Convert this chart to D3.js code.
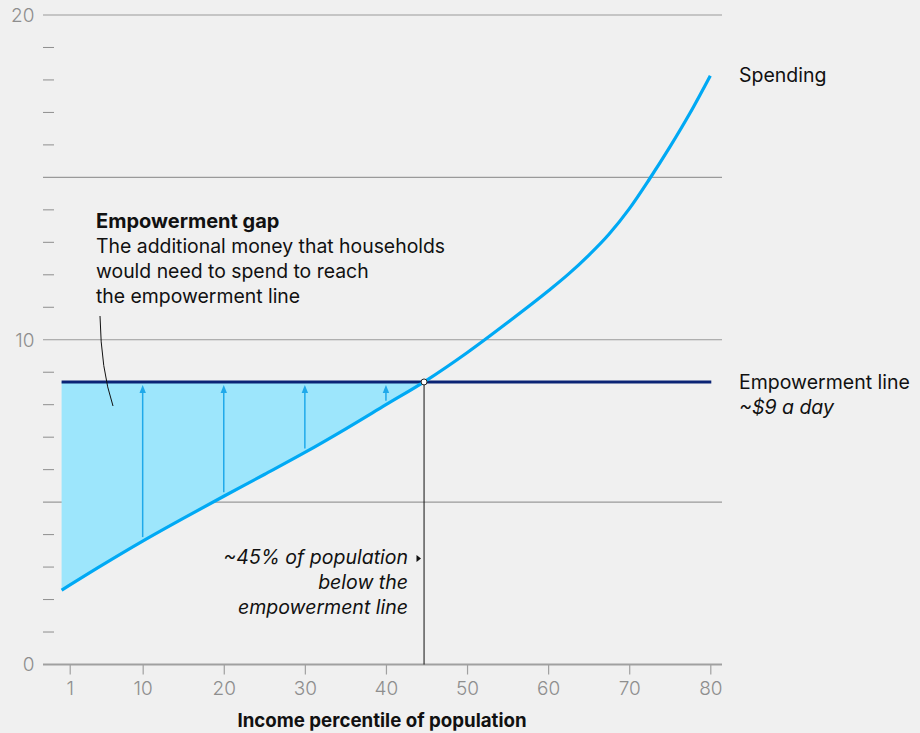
<!DOCTYPE html>
<html>
<head>
<meta charset="utf-8">
<script src="https://cdn.jsdelivr.net/npm/d3@7"></script>
<style>
  html, body { margin: 0; padding: 0; background: #f0f0f0; }
  svg { display: block; font-family: "Inter", "Roboto", sans-serif; }
</style>
</head>
<body>
<svg id="chart" width="920" height="733"></svg>
<script>
// Household spending per day by income percentile
const percentiles = [0, 5, 10, 15, 20, 25, 30, 35, 40, 45, 50, 55, 60, 62.5, 65, 67.5, 70, 72.5, 75, 77.5, 80];
const spending    = [2.29, 3.06, 3.8, 4.5, 5.18, 5.85, 6.53, 7.25, 8.0, 8.75, 9.6, 10.53, 11.5, 12.02, 12.6, 13.25, 14.03, 14.95, 15.93, 16.98, 18.13];

// Empowerment line (~$9 a day) and the share of population below it
const empowermentLine = 8.7;
const crossingPercentile = 44.7;

// Percentiles where the gap is marked with arrows
const arrowPercentiles = [10, 20, 30, 40];

// Axis ticks
const xTicks = [1, 10, 20, 30, 40, 50, 60, 70, 80];
const yLabelTicks = [0, 10, 20];
const yGridTicks = [5, 10, 15, 20];
const yMinorTicks = d3.range(1, 20).filter(v => v % 5 !== 0);

const svg = d3.select("#chart");

const x = d3.scaleLinear().domain([1, 80]).range([69.7, 710.3]);
const y = d3.scaleLinear().domain([0, 20]).range([664.5, 15]);

const gridLeft = 43, gridRight = 722;
const grey = "#8e8e8e";

// Horizontal gridlines
svg.append("g").selectAll("line").data(yGridTicks).join("line")
  .attr("x1", gridLeft).attr("x2", gridRight)
  .attr("y1", d => y(d)).attr("y2", d => y(d))
  .attr("stroke", "#9a9a9a").attr("stroke-width", 1.2);

// Minor y ticks
svg.append("g").selectAll("line").data(yMinorTicks).join("line")
  .attr("x1", gridLeft).attr("x2", 54)
  .attr("y1", d => y(d)).attr("y2", d => y(d))
  .attr("stroke", grey).attr("stroke-width", 1);

// Y labels
svg.append("g").selectAll("text").data(yLabelTicks).join("text")
  .attr("x", 34.5).attr("y", d => y(d))
  .attr("dy", "0.36em")
  .attr("text-anchor", "end")
  .attr("fill", grey)
  .attr("font-size", 19)
  .attr("font-weight", 300)
  .text(d => d);

// X axis
const xAxis = d3.axisBottom(x).tickValues(xTicks).tickSize(10).tickPadding(7).tickSizeOuter(0);
const gx = svg.append("g").attr("transform", `translate(0,${y(0)})`).call(xAxis);
gx.select(".domain").remove();
gx.append("line").attr("x1", gridLeft).attr("x2", gridRight)
  .attr("y1", 0).attr("y2", 0).attr("stroke", "#a0a0a0").attr("stroke-width", 2);
gx.selectAll(".tick line").attr("stroke", "#a0a0a0").attr("stroke-width", 1.2);
gx.selectAll(".tick text")
  .attr("fill", grey).attr("font-size", 19).attr("font-weight", 300)
  .attr("font-family", "Inter, Roboto, sans-serif");

svg.append("text")
  .attr("x", 382).attr("y", 727)
  .attr("text-anchor", "middle")
  .attr("font-size", 18.7).attr("font-weight", 700).attr("fill", "#111")
  .text("Income percentile of population");

const pts = percentiles.map((p, i) => ({ p, v: spending[i] }));

// Gap area between spending and the empowerment line
svg.append("clipPath").attr("id", "gapClip")
  .append("rect")
  .attr("x", x(percentiles[0]) - 1).attr("y", 0)
  .attr("width", x(crossingPercentile) - x(percentiles[0]) + 1)
  .attr("height", 733);

const area = d3.area()
  .x(d => x(d.p))
  .y0(d => y(d.v))
  .y1(y(empowermentLine))
  .curve(d3.curveMonotoneX);

svg.append("path").datum(pts)
  .attr("clip-path", "url(#gapClip)")
  .attr("d", area)
  .attr("fill", "#9de6fc");

// Arrows showing the gap
const line = d3.line().x(d => x(d.p)).y(d => y(d.v)).curve(d3.curveMonotoneX);
const spendPath = svg.append("path").datum(pts).attr("d", line).attr("fill", "none").attr("stroke", "none");
const pathNode = spendPath.node();
function spendAt(p) {
  // y of the spending curve at a percentile, found by bisecting along the path
  const total = pathNode.getTotalLength();
  let lo = 0, hi = total;
  const tx = x(p);
  for (let i = 0; i < 40; i++) {
    const mid = (lo + hi) / 2;
    if (pathNode.getPointAtLength(mid).x < tx) lo = mid; else hi = mid;
  }
  return pathNode.getPointAtLength(lo).y;
}

svg.append("defs").append("marker")
  .attr("id", "arrowHead")
  .attr("viewBox", "0 0 10 10")
  .attr("refX", 5).attr("refY", 5)
  .attr("markerUnits", "userSpaceOnUse")
  .attr("markerWidth", 8).attr("markerHeight", 8)
  .attr("orient", "auto")
  .append("path").attr("d", "M0,1 L10,5 L0,9 Z").attr("fill", "#1fa9ea");

svg.append("g").selectAll("line").data(arrowPercentiles).join("line")
  .attr("x1", d => x(d)).attr("x2", d => x(d))
  .attr("y1", d => spendAt(d) - 4)
  .attr("y2", y(empowermentLine) + 7)
  .attr("stroke", "#1fa9ea").attr("stroke-width", 1.5)
  .attr("marker-end", "url(#arrowHead)");

// Empowerment line
svg.append("line")
  .attr("x1", x(percentiles[0])).attr("x2", x(80) + 1)
  .attr("y1", y(empowermentLine)).attr("y2", y(empowermentLine))
  .attr("stroke", "#0b2475").attr("stroke-width", 3);

// Spending curve
svg.append("path").datum(pts)
  .attr("d", line)
  .attr("fill", "none")
  .attr("stroke", "#00a9f4")
  .attr("stroke-width", 3.2);

// Crossing marker
svg.append("line")
  .attr("x1", x(crossingPercentile)).attr("x2", x(crossingPercentile))
  .attr("y1", y(empowermentLine)).attr("y2", y(0))
  .attr("stroke", "#111").attr("stroke-width", 1);

svg.append("circle")
  .attr("cx", x(crossingPercentile)).attr("cy", y(empowermentLine))
  .attr("r", 3).attr("fill", "#fff").attr("stroke", "#222").attr("stroke-width", 1);

// Labels on the right
svg.append("text").attr("x", 739).attr("y", 82)
  .attr("font-size", 19.5).attr("fill", "#111").attr("font-weight", 400)
  .text("Spending");
svg.append("text").attr("x", 739).attr("y", 389)
  .attr("font-size", 19.5).attr("fill", "#111").attr("font-weight", 400)
  .text("Empowerment line");
svg.append("text").attr("x", 739).attr("y", 414)
  .attr("font-size", 19.5).attr("fill", "#111").attr("font-weight", 400)
  .attr("font-style", "italic")
  .text("~$9 a day");

// Empowerment gap annotation
const gapLines = ["The additional money that households", "would need to spend to reach", "the empowerment line"];
svg.append("text").attr("x", 96).attr("y", 228)
  .attr("font-size", 20).attr("font-weight", 700).attr("fill", "#111")
  .text("Empowerment gap");
svg.append("g").selectAll("text").data(gapLines).join("text")
  .attr("x", 96).attr("y", (d, i) => 253 + i * 25)
  .attr("font-size", 19.4).attr("font-weight", 400).attr("fill", "#111")
  .text(d => d);

svg.append("path")
  .attr("d", "M100,316 Q101,370 113,406")
  .attr("fill", "none").attr("stroke", "#111").attr("stroke-width", 1);

// Population below the line annotation
const belowLines = ["~45% of population", "below the", "empowerment line"];
svg.append("g").selectAll("text").data(belowLines).join("text")
  .attr("x", 408).attr("y", (d, i) => 564 + i * 25)
  .attr("text-anchor", "end")
  .attr("font-size", 19.5).attr("font-weight", 400).attr("font-style", "italic").attr("fill", "#111")
  .text(d => d);
svg.append("path")
  .attr("d", "M416.5,555 L421,558.5 L416.5,562 Z")
  .attr("fill", "#111");
</script>
</body>
</html>
